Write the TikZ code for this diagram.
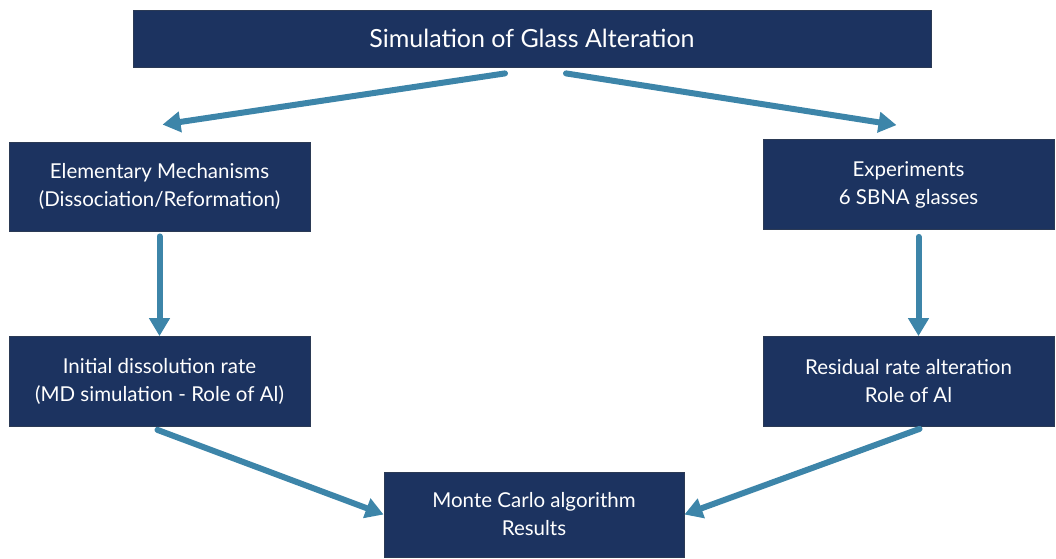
\documentclass[tikz,border=0pt]{standalone}
\usepackage{fontspec}
\setmainfont{Lato}
\usepackage{xcolor}
\definecolor{navy}{HTML}{1C3360}
\definecolor{navyedge}{HTML}{2B3A55}
\definecolor{steel}{HTML}{3D85A9}
\usepackage{tikz}
\usetikzlibrary{arrows.meta}
\tikzset{
  box/.style={draw=navyedge, line width=0.8pt, fill=navy, text=white, align=center, inner sep=0pt, font=\fontsize{20.5}{28}\selectfont},
  headbox/.style={box, font=\fontsize{25}{30}\selectfont},
  flow/.style={-{Triangle[length=18pt,width=20pt]}, steel, line width=6pt, line cap=round},
}
\begin{document}
\begin{tikzpicture}[x=1pt, y=-1pt]
  \useasboundingbox (0,0) rectangle (1056,558);
  \node[headbox, minimum width=798pt, minimum height=57pt] (title) at (532,38.5) {Simulation of Glass Alteration};
  \node[box, minimum width=301pt, minimum height=89pt] (mech) at (159.5,186.5) {Elementary Mechanisms\\(Dissociation/Reformation)};
  \node[box, minimum width=291pt, minimum height=90pt] (expe) at (908.5,184.5) {Experiments\\6 SBNA glasses};
  \node[box, minimum width=301pt, minimum height=90pt] (init) at (159.5,381.5) {Initial dissolution rate\\(MD simulation - Role of Al)};
  \node[box, minimum width=291pt, minimum height=90pt] (resid) at (908.5,381.5) {Residual rate alteration\\Role of Al};
  \node[box, minimum width=300pt, minimum height=85pt] (monte) at (534,514.5) {Monte Carlo algorithm\\Results};
  \draw[flow] ([xshift=-27pt,yshift=-6pt]title.south) -- ([xshift=3pt,yshift=17pt]mech.north);
  \draw[flow] ([xshift=34pt,yshift=-6pt]title.south) -- ([xshift=-12pt,yshift=14pt]expe.north);
  \draw[flow] ([yshift=-5pt]mech.south) -- (init.north);
  \draw[flow] ([xshift=10pt,yshift=-7pt]expe.south) -- ([xshift=10pt]resid.north);
  \draw[flow] ([xshift=-2pt,yshift=-3pt]init.south) -- (monte.west);
  \draw[flow] ([xshift=11pt,yshift=-2pt]resid.south) -- (monte.east);
\end{tikzpicture}
\end{document}
